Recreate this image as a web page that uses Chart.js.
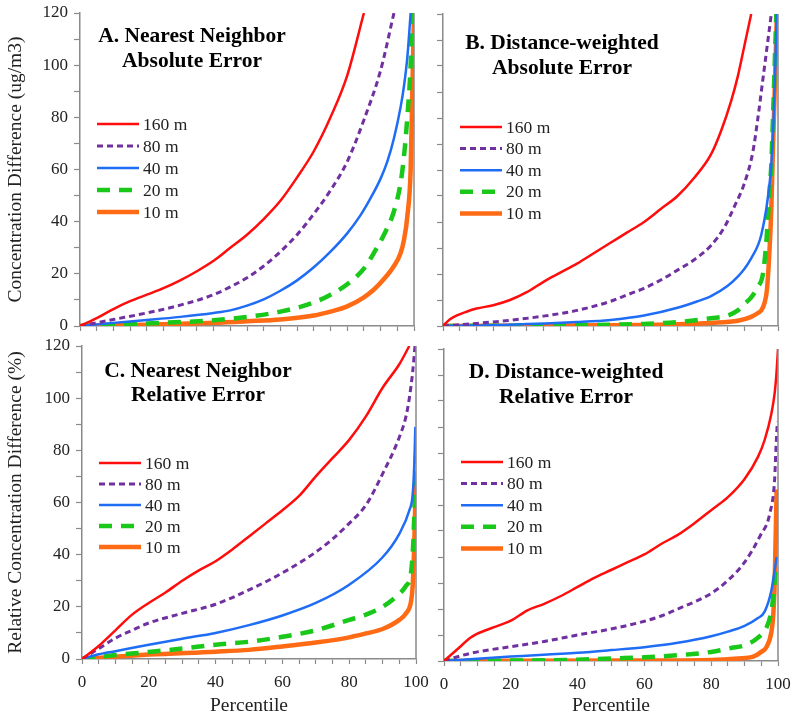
<!DOCTYPE html>
<html>
<head>
<meta charset="utf-8">
<script src="https://cdn.jsdelivr.net/npm/chart.js@4/dist/chart.umd.min.js"></script>
<style>
  body { margin: 0; background: #fff; }
  #wrap { position: relative; width: 800px; height: 721px; background: #fff; }
  canvas { position: absolute; }
</style>
</head>
<body>
<div id="wrap">
  <canvas id="chartA" width="430" height="336" style="left:0;top:0"></canvas>
  <canvas id="chartB" width="370" height="336" style="left:430px;top:0"></canvas>
  <canvas id="chartC" width="430" height="385" style="left:0;top:336px"></canvas>
  <canvas id="chartD" width="370" height="385" style="left:430px;top:336px"></canvas>
</div>
<script>
var seriesLabels = ['160 m', '80 m', '40 m', '20 m', '10 m'];
var xTicks = [0, 20, 40, 60, 80, 100];
var yTicks = [0, 20, 40, 60, 80, 100, 120];

// A. nearest neighbor, absolute error (percentile / ug/m3)
var aPct160 = [0, 5, 10, 15, 20, 25, 30, 35, 40, 45, 50, 55, 60, 65, 70, 75, 80, 85];
var aVal160 = [0, 3, 6.5, 9.5, 12, 14.5, 17.5, 21, 25, 30, 35, 41, 48, 57, 67, 80, 96, 120];
var aPct80 = [0, 10, 20, 30, 40, 45, 50, 55, 60, 65, 70, 75, 80, 85, 90, 94];
var aVal80 = [0, 2.5, 5, 8, 12, 15, 18.5, 23, 28.5, 35, 43, 52, 63, 79, 98, 120];
var aPct40 = [0, 10, 20, 30, 40, 45, 50, 55, 60, 65, 70, 75, 80, 84, 87, 90, 92, 94, 96, 97, 98, 99];
var aVal40 = [0, 1.2, 2.3, 3.5, 5, 6, 7.8, 10.2, 13.5, 17.5, 22.5, 28.5, 35.5, 42.5, 49, 56.5, 63, 72, 84, 92, 103, 120];
var aPct20 = [0, 20, 40, 50, 60, 70, 75, 80, 85, 88, 91, 94, 96, 97, 98, 99, 99.5];
var aVal20 = [0, 1, 2.2, 3.5, 5.5, 9, 12, 16, 22, 28, 35, 44, 55, 65, 80, 100, 120];
var aPct10 = [0, 20, 40, 50, 60, 70, 75, 80, 85, 88, 91, 94, 96, 97, 98, 99, 99.5, 100];
var aVal10 = [0, 0.5, 1.2, 1.8, 2.5, 4, 5.5, 7.5, 11, 14, 18, 23, 28, 33, 42, 60, 90, 120];

// B. distance-weighted, absolute error
var bPct160 = [0, 2, 4, 7, 10, 15, 20, 25, 30, 35, 40, 45, 50, 55, 60, 65, 70, 75, 80, 83, 86, 88, 90, 92];
var bVal160 = [0, 2.5, 4, 5.5, 6.7, 8, 10, 13, 17, 20.5, 24, 28, 32, 36, 40, 45, 50, 57, 66, 75, 86.5, 96, 108, 120];
var bPct80 = [0, 10, 20, 30, 40, 50, 55, 60, 65, 70, 75, 80, 84, 87, 90, 92.5, 94, 95.5, 97, 98];
var bVal80 = [0, 1, 2.2, 3.8, 6, 9.5, 12, 14.5, 17.7, 21.5, 25.5, 31, 38, 46, 55, 67, 80, 95, 110, 120];
var bPct40 = [0, 20, 40, 50, 60, 70, 76, 80, 85, 88, 90, 92, 94, 95, 96.5, 97.5, 98, 98.7, 99.2, 99.6];
var bVal40 = [0, 0.5, 1.5, 2.3, 4, 7, 9.5, 11.5, 15.5, 19, 22, 26, 31, 35, 45, 55, 62, 80, 100, 120];
var bPct20 = [0, 40, 60, 70, 80, 85, 88, 90, 92, 94, 95.5, 96.5, 97, 97.5, 98, 98.5, 99, 99.5];
var bVal20 = [0, 0.3, 0.8, 1.5, 3, 4, 6, 8.5, 11, 15, 20, 32, 42, 52, 62, 80, 100, 120];
var bPct10 = [0, 50, 70, 80, 88, 92, 94, 95, 96, 96.7, 97.5, 98, 98.5, 99, 99.6];
var bVal10 = [0, 0.3, 0.7, 1.2, 2, 3.5, 5, 6, 9, 14, 30, 45, 68, 90, 117];

// C. nearest neighbor, relative error (%)
var cPct160 = [0, 5, 10, 15, 20, 25, 30, 35, 40, 45, 50, 55, 60, 65, 70, 75, 80, 85, 90, 95, 98];
var cVal160 = [0, 5, 11, 17, 21.5, 25.5, 30, 34, 37.5, 42, 47, 52, 57, 62.5, 70, 77, 84, 93, 104, 113, 120];
var cPct80 = [0, 5, 10, 15, 20, 30, 40, 50, 60, 70, 75, 80, 85, 90, 95, 97, 98, 99, 99.7];
var cVal80 = [0, 4, 8, 11, 13.8, 17.5, 21, 26.5, 33, 41, 46, 52, 59, 71, 85, 93, 100, 110, 120];
var cPct40 = [0, 5, 10, 20, 30, 40, 50, 60, 70, 80, 90, 95, 98, 99, 99.5, 99.8];
var cVal40 = [0, 1.8, 3, 5.5, 7.8, 10, 13, 16.7, 21.5, 28.5, 39, 48, 57, 63, 75, 89];
var cPct20 = [0, 10, 20, 30, 40, 50, 60, 70, 80, 85, 90, 95, 97, 98.5, 99.2, 99.6, 100];
var cVal20 = [0, 1.5, 2.7, 4, 5.5, 6.6, 8.5, 11, 15, 17, 20, 25, 28, 33, 45, 60, 78];
var cPct10 = [0, 20, 40, 50, 60, 70, 80, 85, 90, 95, 97, 98.5, 99, 99.5, 100];
var cVal10 = [0, 1.7, 2.8, 3.5, 4.8, 6.3, 8.3, 9.8, 11.5, 15, 17.5, 22, 28, 45, 72];

// D. distance-weighted, relative error (%)
var dPct160 = [0, 4, 8, 10, 15, 20, 25, 30, 35, 40, 45, 50, 55, 60, 65, 70, 75, 80, 85, 90, 94, 96, 98, 99, 99.5, 100];
var dVal160 = [0, 4.5, 9, 10.5, 13, 15.5, 19.5, 22, 25, 28.5, 32, 35, 38, 41, 45, 48.5, 53, 58, 63, 70, 78.5, 85, 95, 103, 110, 120];
var dPct80 = [0, 5, 10, 20, 30, 40, 50, 60, 65, 70, 80, 85, 90, 94.6, 97.6, 99, 99.4, 99.8];
var dVal80 = [0, 2, 3.5, 5.5, 7.5, 10, 12.3, 15.3, 17.3, 20, 26, 31, 38, 48, 57, 70, 82, 92];
var dPct40 = [0, 20, 40, 50, 60, 70, 80, 85, 90, 94, 96, 98, 99, 99.6];
var dVal40 = [0, 1.7, 3.2, 4.2, 5.3, 7, 9.5, 11.3, 13.5, 16.5, 19, 27, 35, 40];
var dPct20 = [0, 40, 50, 60, 70, 80, 86, 90, 94, 96.6, 98, 98.6, 99.3];
var dVal20 = [0, 0.5, 1, 1.4, 2.2, 3.5, 5, 6, 9, 13, 19, 25, 35];
var dPct10 = [0, 60, 80, 88, 92.6, 95, 96.6, 98, 98.6, 99, 99.3, 99.6];
var dVal10 = [0, 0.2, 0.4, 1, 1.7, 3.5, 5.5, 11, 18, 30, 48, 66];

var lineStyles = [
    { color: '#ff0d0d', width: 2.5, dash: [] },
    { color: '#7030a0', width: 3, dash: [6, 4] },
    { color: '#1f6cf5', width: 2.5, dash: [] },
    { color: '#19c819', width: 4.5, dash: [13, 9] },
    { color: '#ff6a14', width: 4.5, dash: [] }
];

var serif = "'Liberation Serif', 'Times New Roman', serif";

// titles, legend and right frame line drawn inside the plot area
var panelDecor = {
    id: 'panelDecor',
    afterDraw: function (chart, args, opts) {
        var ctx = chart.ctx, area = chart.chartArea;
        ctx.save();
        ctx.strokeStyle = '#8a8a8a';
        ctx.lineWidth = 1.5;
        ctx.beginPath();
        ctx.moveTo(area.right, area.top);
        ctx.lineTo(area.right, area.bottom);
        ctx.stroke();

        ctx.fillStyle = '#000';
        ctx.font = 'bold 21.5px ' + serif;
        ctx.textAlign = 'center';
        ctx.textBaseline = 'middle';
        opts.title.forEach(function (t, i) {
            ctx.fillText(t, area.left + opts.titleX, area.top + opts.titleY[i]);
        });

        ctx.font = '17.5px ' + serif;
        ctx.textAlign = 'left';
        chart.data.datasets.forEach(function (ds, i) {
            var y = area.top + opts.legendY + i * opts.legendStep;
            ctx.strokeStyle = ds.borderColor;
            ctx.lineWidth = ds.borderWidth;
            ctx.setLineDash(ds.borderDash);
            ctx.beginPath();
            ctx.moveTo(area.left + 17, y);
            ctx.lineTo(area.left + 59, y);
            ctx.stroke();
            ctx.setLineDash([]);
            ctx.fillStyle = '#222';
            ctx.fillText(ds.label, area.left + 63, y + 1);
        });
        ctx.restore();
    }
};

function makeChart(id, pcts, vals, cfg) {
    var datasets = pcts.map(function (pct, i) {
        return {
            label: seriesLabels[i],
            data: pct.map(function (p, j) { return { x: p, y: vals[i][j] }; }),
            borderColor: lineStyles[i].color,
            borderWidth: lineStyles[i].width,
            borderDash: lineStyles[i].dash,
            pointRadius: 0,
            fill: false,
            cubicInterpolationMode: 'monotone'
        };
    });
    // thin lines end up on top, like the original
    datasets.forEach(function (ds, i) { ds.order = i - 10; });

    return new Chart(document.getElementById(id).getContext('2d'), {
        type: 'line',
        data: { datasets: datasets },
        options: {
            responsive: false,
            animation: false,
            layout: { padding: { top: cfg.padTop, right: cfg.padRight, left: 0, bottom: 0 } },
            scales: {
                x: {
                    type: 'linear', min: 0, max: 100,
                    afterBuildTicks: function (s) {
                        var t = [];
                        for (var v = 0; v <= 100; v += 5) t.push({ value: v });
                        s.ticks = t;
                    },
                    ticks: {
                        autoSkip: false, maxRotation: 0, padding: 8,
                        color: '#222', font: { family: serif, size: 17 },
                        callback: function (v) { return cfg.showX && xTicks.indexOf(v) >= 0 ? v : ''; }
                    },
                    grid: { drawOnChartArea: false, tickLength: 5, color: '#8a8a8a', tickWidth: 1.2 },
                    border: { color: '#8a8a8a', width: 1.5 },
                    title: {
                        display: cfg.showX, text: 'Percentile', color: '#222',
                        font: { family: serif, size: 19.5 }, padding: { top: 0, bottom: 3 }
                    },
                    afterFit: function (s) {
                        s.height = cfg.xHeight;
                        s.paddingLeft = 0;
                        s.paddingRight = 0;
                    }
                },
                y: {
                    min: 0, max: 120,
                    afterBuildTicks: function (s) {
                        var t = [];
                        for (var v = 0; v <= 120; v += 10) t.push({ value: v });
                        s.ticks = t;
                    },
                    ticks: {
                        autoSkip: false, padding: 6,
                        color: '#222', font: { family: serif, size: 17 },
                        callback: function (v) { return cfg.showY && yTicks.indexOf(v) >= 0 ? v : ''; }
                    },
                    grid: { drawOnChartArea: false, tickLength: 6, color: '#8a8a8a', tickWidth: 1.2 },
                    border: { color: '#8a8a8a', width: 1.5 },
                    title: {
                        display: !!cfg.yTitle, text: cfg.yTitle || '', color: '#222',
                        font: { family: serif, size: 19.5 }, padding: { top: 4, bottom: 0 }
                    },
                    afterFit: function (s) {
                        s.width = cfg.yWidth;
                        s.paddingTop = 0;
                        s.paddingBottom = 0;
                    }
                }
            },
            plugins: {
                legend: { display: false },
                tooltip: { enabled: false },
                panelDecor: cfg.decor
            }
        },
        plugins: [panelDecor]
    });
}

makeChart('chartA', [aPct160, aPct80, aPct40, aPct20, aPct10], [aVal160, aVal80, aVal40, aVal20, aVal10], {
    padTop: 13, padRight: 16, yWidth: 80, xHeight: 10, showX: false, showY: true,
    yTitle: 'Concentration Difference (ug/m3)',
    decor: { title: ['A. Nearest Neighbor', 'Absolute Error'], titleX: 112, titleY: [23, 48], legendY: 111, legendStep: 22 }
});
makeChart('chartB', [bPct160, bPct80, bPct40, bPct20, bPct10], [bVal160, bVal80, bVal40, bVal20, bVal10], {
    padTop: 14, padRight: 22, yWidth: 13, xHeight: 10, showX: false, showY: false,
    decor: { title: ['B. Distance-weighted', 'Absolute Error'], titleX: 119, titleY: [29, 54], legendY: 113, legendStep: 21.6 }
});
makeChart('chartC', [cPct160, cPct80, cPct40, cPct20, cPct10], [cVal160, cVal80, cVal40, cVal20, cVal10], {
    padTop: 10, padRight: 14, yWidth: 82, xHeight: 62, showX: true, showY: true,
    yTitle: 'Relative Concentration Difference (%)',
    decor: { title: ['C. Nearest Neighbor', 'Relative Error'], titleX: 116, titleY: [25, 49], legendY: 117, legendStep: 21 }
});
makeChart('chartD', [dPct160, dPct80, dPct40, dPct20, dPct10], [dVal160, dVal80, dVal40, dVal20, dVal10], {
    padTop: 13, padRight: 22, yWidth: 14, xHeight: 60, showX: true, showY: false,
    decor: { title: ['D. Distance-weighted', 'Relative Error'], titleX: 122, titleY: [23, 48], legendY: 113, legendStep: 21.6 }
});
</script>
</body>
</html>
